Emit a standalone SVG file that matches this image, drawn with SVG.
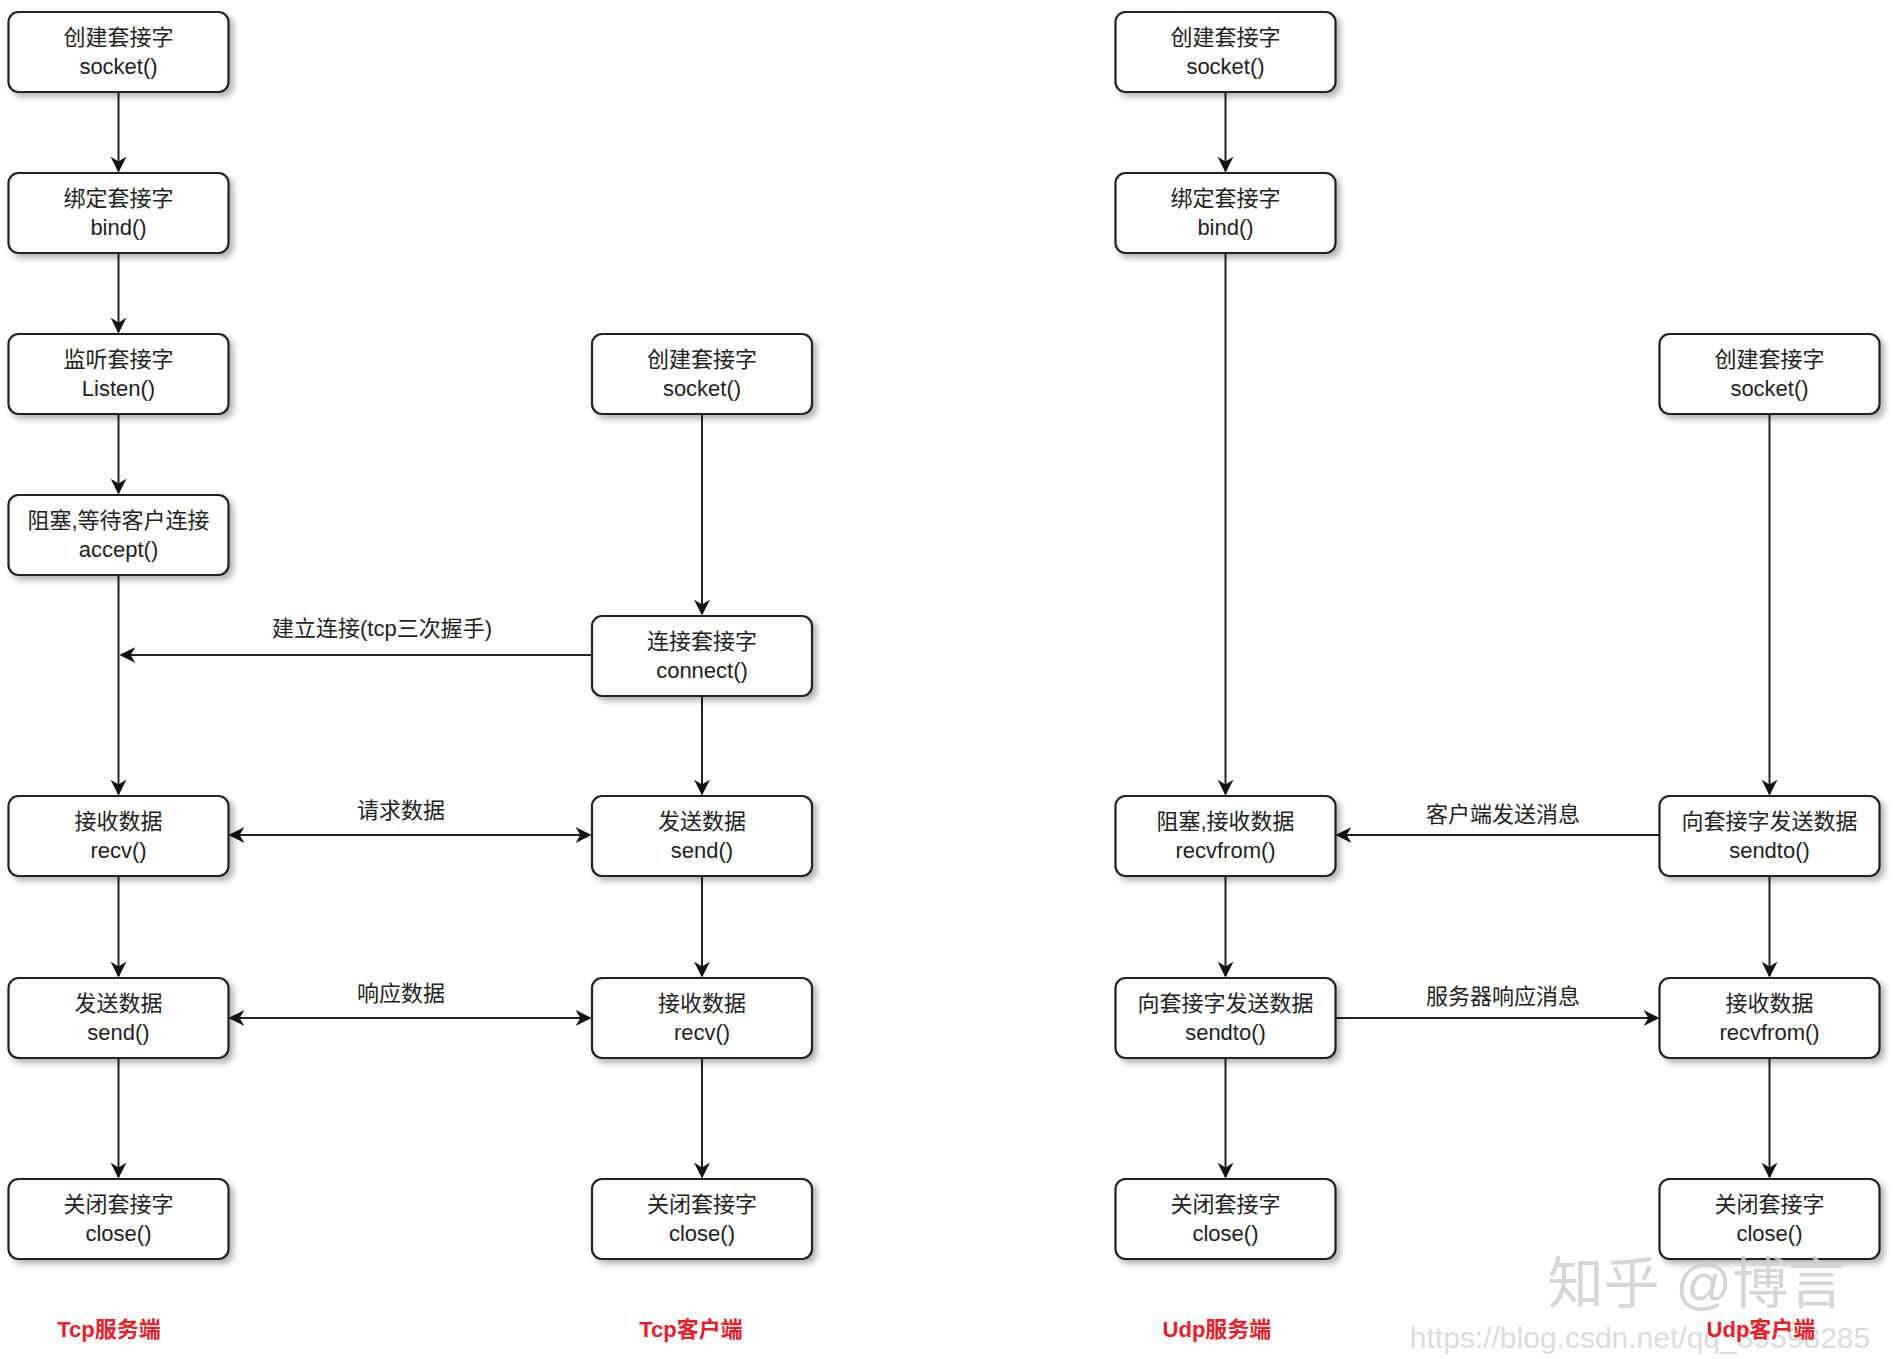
<svg xmlns="http://www.w3.org/2000/svg" width="1895" height="1359" viewBox="0 0 1895 1359">
<defs>
<filter id="sh" x="-10%" y="-10%" width="130%" height="140%"><feDropShadow dx="4" dy="4" stdDeviation="3" flood-color="#000" flood-opacity="0.3"/></filter>
<marker id="ar" viewBox="0 0 10 10" refX="9" refY="5" markerWidth="8" markerHeight="8" orient="auto-start-reverse"><path d="M0,0 L10,5 L0,10 L3,5 z" fill="#111"/></marker>
<style>
.b{fill:#fff;stroke:#222;stroke-width:2.2;filter:url(#sh)}
.t{font-family:"Liberation Sans","Noto Sans CJK SC",sans-serif;font-size:22px;fill:#222;text-anchor:middle}
.l{stroke:#222;stroke-width:2;fill:none;marker-end:url(#ar)}
.d{marker-start:url(#ar)}
.r{font-family:"Liberation Sans","Noto Sans CJK SC",sans-serif;font-size:22px;font-weight:bold;fill:#e8202a;text-anchor:middle}
</style>
</defs>
<rect width="1895" height="1359" fill="#fff"/>
<g id="edges">
<path class="l" d="M118.5,92V171"/><path class="l" d="M118.5,253V332"/><path class="l" d="M118.5,414V493"/><path class="l" d="M118.5,575V794"/><path class="l" d="M118.5,876V976"/><path class="l" d="M118.5,1058V1177"/>
<path class="l" d="M702,414V614"/><path class="l" d="M702,696V794"/><path class="l" d="M702,876V976"/><path class="l" d="M702,1058V1177"/>
<path class="l" d="M592,655H121"/>
<path class="l d" d="M230,835H590"/><path class="l d" d="M230,1018H590"/>
<path class="l" d="M1225.5,92V171"/><path class="l" d="M1225.5,253V794"/><path class="l" d="M1225.5,876V976"/><path class="l" d="M1225.5,1058V1177"/>
<path class="l" d="M1769.5,414V794"/><path class="l" d="M1769.5,876V976"/><path class="l" d="M1769.5,1058V1177"/>
<path class="l" d="M1659.5,835H1337"/><path class="l" d="M1335.5,1018H1658"/>
<text class="t" x="382" y="636">建立连接(tcp三次握手)</text>
<text class="t" x="401" y="818">请求数据</text>
<text class="t" x="401" y="1001">响应数据</text>
<text class="t" x="1503" y="822">客户端发送消息</text>
<text class="t" x="1503" y="1004">服务器响应消息</text>
</g>
<g id="ts1"><rect class="b" x="8.5" y="12" width="220" height="80" rx="10"/><text class="t" x="118.5" y="45">创建套接字</text><text class="t" x="118.5" y="74">socket()</text></g>
<g id="ts2"><rect class="b" x="8.5" y="173" width="220" height="80" rx="10"/><text class="t" x="118.5" y="206">绑定套接字</text><text class="t" x="118.5" y="235">bind()</text></g>
<g id="ts3"><rect class="b" x="8.5" y="334" width="220" height="80" rx="10"/><text class="t" x="118.5" y="367">监听套接字</text><text class="t" x="118.5" y="396">Listen()</text></g>
<g id="ts4"><rect class="b" x="8.5" y="495" width="220" height="80" rx="10"/><text class="t" x="118.5" y="528">阻塞,等待客户连接</text><text class="t" x="118.5" y="557">accept()</text></g>
<g id="ts5"><rect class="b" x="8.5" y="796" width="220" height="80" rx="10"/><text class="t" x="118.5" y="829">接收数据</text><text class="t" x="118.5" y="858">recv()</text></g>
<g id="ts6"><rect class="b" x="8.5" y="978" width="220" height="80" rx="10"/><text class="t" x="118.5" y="1011">发送数据</text><text class="t" x="118.5" y="1040">send()</text></g>
<g id="ts7"><rect class="b" x="8.5" y="1179" width="220" height="80" rx="10"/><text class="t" x="118.5" y="1212">关闭套接字</text><text class="t" x="118.5" y="1241">close()</text></g>
<g id="tc1"><rect class="b" x="592" y="334" width="220" height="80" rx="10"/><text class="t" x="702" y="367">创建套接字</text><text class="t" x="702" y="396">socket()</text></g>
<g id="tc2"><rect class="b" x="592" y="616" width="220" height="80" rx="10"/><text class="t" x="702" y="649">连接套接字</text><text class="t" x="702" y="678">connect()</text></g>
<g id="tc3"><rect class="b" x="592" y="796" width="220" height="80" rx="10"/><text class="t" x="702" y="829">发送数据</text><text class="t" x="702" y="858">send()</text></g>
<g id="tc4"><rect class="b" x="592" y="978" width="220" height="80" rx="10"/><text class="t" x="702" y="1011">接收数据</text><text class="t" x="702" y="1040">recv()</text></g>
<g id="tc5"><rect class="b" x="592" y="1179" width="220" height="80" rx="10"/><text class="t" x="702" y="1212">关闭套接字</text><text class="t" x="702" y="1241">close()</text></g>
<g id="us1"><rect class="b" x="1115.5" y="12" width="220" height="80" rx="10"/><text class="t" x="1225.5" y="45">创建套接字</text><text class="t" x="1225.5" y="74">socket()</text></g>
<g id="us2"><rect class="b" x="1115.5" y="173" width="220" height="80" rx="10"/><text class="t" x="1225.5" y="206">绑定套接字</text><text class="t" x="1225.5" y="235">bind()</text></g>
<g id="us3"><rect class="b" x="1115.5" y="796" width="220" height="80" rx="10"/><text class="t" x="1225.5" y="829">阻塞,接收数据</text><text class="t" x="1225.5" y="858">recvfrom()</text></g>
<g id="us4"><rect class="b" x="1115.5" y="978" width="220" height="80" rx="10"/><text class="t" x="1225.5" y="1011">向套接字发送数据</text><text class="t" x="1225.5" y="1040">sendto()</text></g>
<g id="us5"><rect class="b" x="1115.5" y="1179" width="220" height="80" rx="10"/><text class="t" x="1225.5" y="1212">关闭套接字</text><text class="t" x="1225.5" y="1241">close()</text></g>
<g id="uc1"><rect class="b" x="1659.5" y="334" width="220" height="80" rx="10"/><text class="t" x="1769.5" y="367">创建套接字</text><text class="t" x="1769.5" y="396">socket()</text></g>
<g id="uc2"><rect class="b" x="1659.5" y="796" width="220" height="80" rx="10"/><text class="t" x="1769.5" y="829">向套接字发送数据</text><text class="t" x="1769.5" y="858">sendto()</text></g>
<g id="uc3"><rect class="b" x="1659.5" y="978" width="220" height="80" rx="10"/><text class="t" x="1769.5" y="1011">接收数据</text><text class="t" x="1769.5" y="1040">recvfrom()</text></g>
<g id="uc4"><rect class="b" x="1659.5" y="1179" width="220" height="80" rx="10"/><text class="t" x="1769.5" y="1212">关闭套接字</text><text class="t" x="1769.5" y="1241">close()</text></g>
<g id="labels">
<text class="r" x="109" y="1337">Tcp服务端</text>
<text class="r" x="691" y="1337">Tcp客户端</text>
<text class="r" x="1217" y="1337">Udp服务端</text>
<text x="1696" y="1303" font-family="Liberation Sans,Noto Sans CJK SC,sans-serif" font-size="56" fill="#cfcfcf" fill-opacity="0.85" text-anchor="middle">知乎 @博言</text>
<text x="1640" y="1348" font-family="Liberation Sans,sans-serif" font-size="30" fill="#dcdcdc" text-anchor="middle">https://blog.csdn.net/qq_39598285</text>
<text class="r" x="1761" y="1337">Udp客户端</text>
</g>
</svg>
